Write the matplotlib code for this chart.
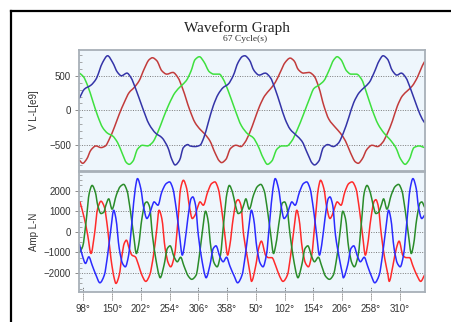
import numpy as np
import matplotlib
matplotlib.use("Agg")
import matplotlib.pyplot as plt
from matplotlib.path import Path
from matplotlib.patches import PathPatch
from matplotlib.lines import Line2D
from matplotlib.ticker import MultipleLocator, FixedLocator

# ---------------- data (angle in degrees, continuous) ----------------
title = "Waveform Graph"
subtitle = "67 Cycle(s)"
v_label = "V L-L[e9]"
i_label = "Amp L-N"

tick_deg = [98, 150, 202, 254, 306, 358, 410, 462, 514, 566, 618, 670]
tick_labels = ["98°", "150°", "202°", "254°", "306°", "358°",
               "50°", "102°", "154°", "206°", "258°", "310°"]

# Voltage L-L
v_blue_x = [91, 100, 112, 121, 133, 142, 151, 160, 167, 177, 184, 193, 205, 217, 229, 240, 251, 258, 264, 272,
            279, 287, 291, 300, 309, 316, 324, 333, 342, 351, 360, 369, 378, 386, 390, 398, 407, 416, 427, 436,
            445, 454, 463, 472, 483, 493, 504, 512, 516, 524, 532, 540, 550, 559, 568, 578, 587, 597, 606, 615,
            624, 633, 640, 648, 657, 665, 673, 681, 690, 702, 711, 715]
v_blue_y = [178, 309, 368, 455, 699, 796, 699, 553, 504, 543, 480, 309, 41, -202, -334, -397, -543, -713, -796, -728,
            -543, -499, -519, -528, -509, -397, -178, 66, 236, 333, 382, 504, 699, 787, 796, 738, 577, 514, 543, 480,
            309, 90, -129, -275, -363, -446, -640, -772, -796, -738, -543, -499, -528, -480, -334, -105, 114, 260, 333, 406,
            553, 723, 796, 747, 577, 514, 543, 480, 309, 41, -129, -178]

v_red_x = [91, 97, 104, 112, 121, 130, 138, 145, 154, 163, 172, 181, 190, 199, 208, 217, 223, 231, 240, 249,
           260, 269, 278, 290, 300, 309, 318, 327, 336, 344, 348, 356, 364, 374, 383, 390, 399, 408, 417, 426,
           436, 445, 454, 463, 472, 479, 487, 496, 506, 515, 524, 533, 542, 554, 563, 572, 581, 590, 595, 602,
           611, 620, 630, 639, 648, 657, 666, 675, 684, 693, 702, 711, 715]
v_red_y = [-728, -772, -713, -577, -519, -543, -519, -421, -251, -56, 114, 260, 333, 431, 601, 738, 767, 723, 577, 528,
           553, 480, 309, 17, -178, -275, -348, -446, -616, -738, -762, -713, -558, -509, -528, -470, -324, -129, 66, 212,
           309, 406, 553, 699, 762, 723, 592, 543, 553, 504, 333, 66, -129, -251, -334, -446, -616, -752, -772, -713,
           -567, -509, -528, -470, -334, -153, 66, 212, 285, 358, 480, 650, 709]

v_green_x = [91, 98, 106, 115, 124, 133, 142, 151, 160, 169, 176, 181, 188, 196, 205, 214, 223, 233, 243, 253,
             264, 275, 284, 293, 300, 308, 316, 326, 334, 344, 351, 360, 372, 384, 396, 405, 414, 423, 431, 439,
             448, 457, 466, 475, 484, 497, 507, 515, 524, 533, 542, 551, 557, 564, 574, 582, 592, 601, 610, 620,
             631, 642, 652, 663, 672, 680, 687, 696, 705, 715]
v_green_y = [543, 494, 358, 139, -80, -251, -334, -373, -470, -640, -762, -787, -738, -567, -509, -519, -470, -314, -105, 90,
             260, 358, 431, 577, 738, 782, 709, 562, 528, 528, 455, 285, 17, -226, -348, -397, -519, -689, -787, -738,
             -567, -519, -519, -446, -300, -40, 170, 319, 368, 431, 577, 738, 782, 738, 577, 528, 528, 455, 260, 17,
             -202, -334, -421, -543, -713, -787, -723, -543, -519, -543]

# Current L-N
i_blue_x = [91, 97, 102, 108, 114, 121, 128,
            136, 142, 148, 153, 157, 163, 169, 174, 180, 186, 192, 196, 202, 207, 213, 217, 222, 226, 233, 240,
            248, 254, 260, 266, 272, 277, 281, 287, 293, 296, 301, 306, 312, 318, 320, 327, 333, 338, 345, 351,
            357, 363, 371,
            377, 385, 391, 397, 402, 406, 412, 418, 423, 429, 435, 441, 445, 451, 456, 461, 466, 471, 475, 481,
            489, 496, 502, 508, 514, 520, 525, 529, 535, 541, 544, 549, 554, 561, 567, 568, 576, 582, 587, 594,
            599, 606, 612, 619,
            625, 633, 639, 645, 650, 654, 660, 666, 671, 677, 683, 689, 694, 700, 704, 710, 715]
i_blue_y = [-600, -1210, -1532, -1210, -1613, -2097, -2468,
            -2097, -1129, 161, 1048, 645, -806, -1532, -1694, -1129, 484, 2097, 2581, 2097, 1210, 645, 806, 1210, 1452, 1290, 1936,
            2339, 2420, 2097, 1129, -161, -1129, -645, 645, 1613, 1694, 1290, -161, -1290, -2097, -2226, -1613, -806, -677, -1200, -1450,
            -1230, -1650, -2150,
            -2468, -2097, -1129, 161, 1048, 645, -806, -1532, -1694, -1129, 484, 2097, 2581, 2097, 1210, 645, 806, 1210, 1452, 1290,
            1936, 2339, 2420, 2097, 1129, -161, -1129, -645, 645, 1613, 1694, 1290, -161, -1290, -2097, -2226, -1613, -806, -677, -1200,
            -1450, -1230, -1650, -2150,
            -2468, -2097, -1129, 161, 1048, 645, -806, -1532, -1694, -1129, 484, 2097, 2581, 2097, 1210, 645, 806]

i_red_x = [92, 100, 106, 112, 118, 124, 130, 136, 142, 148, 154, 157, 163, 168, 172, 176, 181, 186, 192, 198, 204, 211,
           218, 225, 231, 235, 240, 246, 252, 256, 263, 269, 274, 279, 285, 290, 295, 300, 305, 309, 315, 323,
           330, 336, 342, 348, 354, 359, 363, 369, 375, 378, 383, 388, 395, 400, 402, 410, 415, 420, 428, 433,
           439, 446, 453,
           459, 467, 473, 479, 484, 488, 494, 500, 505, 511, 517, 523, 527, 533, 538, 544, 548, 553, 557, 564,
           571, 578, 584, 591, 597, 603, 608, 612, 618, 624, 627, 631, 637, 643, 649, 651, 658, 664, 669, 676,
           682, 688, 694, 702, 708, 715]
i_red_y = [1452, 645, -161, -1048, -161, 1129, 1484, 1210, 161, -1290, -2258, -2500, -2097, -1129, -565, -403, -806, -1129, -1210, -1613, -2097, -2400,
           -2097, -1129, 161, 1048, 645, -806, -1532, -1694, -1129, 484, 2097, 2500, 2097, 1210, 645, 806, 1210, 1452, 1290, 1936,
           2339, 2420, 2097, 1129, -161, -1129, -645, 645, 1484, 1560, 1290, -161, -1290, -2097, -2400, -1613, -806, -450, -1150, -1250,
           -1250, -1650, -2150,
           -2400, -2097, -1129, 161, 1048, 645, -806, -1532, -1694, -1129, 484, 2097, 2500, 2097, 1210, 645, 806, 1210, 1452, 1290,
           1936, 2339, 2420, 2097, 1129, -161, -1129, -645, 645, 1484, 1560, 1290, -161, -1290, -2097, -2400, -1613, -806, -450, -1150,
           -1250, -1250, -1650, -2150, -2400, -2097]

i_green_x = [91, 97, 103, 109, 114, 120, 124, 130, 135, 139, 144, 150, 158, 165, 171, 177, 183, 189, 194, 198, 204, 210,
             213, 218, 223, 229, 235, 237, 244, 250, 255, 262, 268, 274, 280, 288,
             294, 302, 308, 314, 319, 323, 329, 335, 340, 346, 352, 358, 362, 368, 373, 378, 383, 388, 392, 398,
             406, 413, 419, 425, 431, 437, 442, 446, 453, 458, 462, 466, 472, 478, 484, 486, 493, 499, 504, 511,
             516, 523, 529, 536,
             543, 550, 557, 563, 567, 572, 578, 584, 588, 595, 601, 606, 611, 617, 622, 627, 632, 637, 641, 647,
             655, 662, 668, 674, 680, 686, 691, 695, 701, 707, 710, 715]
i_green_y = [-1000, -700, 484, 1900, 2250, 1900, 1300, 887, 950, 1300, 1600, 1100, 1800, 2200, 2300, 2000, 1050, -161, -1050, -645, 645, 1400,
             1450, 1200, -161, -1290, -2097, -2226, -1613, -806, -677, -1200, -1450, -1230, -1650, -2150,
             -2300, -2097, -1129, 161, 1000, 645, -806, -1532, -1694, -1129, 484, 1900, 2250, 1900, 1300, 887, 950, 1300, 1600, 1100,
             1800, 2200, 2300, 2000, 1050, -161, -1050, -645, 645, 1400, 1450, 1200, -161, -1290, -2097, -2226, -1613, -806, -677, -1200,
             -1450, -1230, -1650, -2150,
             -2300, -2097, -1129, 161, 1000, 645, -806, -1532, -1694, -1129, 484, 1900, 2250, 1900, 1300, 887, 950, 1300, 1600, 1100,
             1800, 2200, 2300, 2000, 1050, -161, -1050, -645, 645, 1400, 1450, 1200]

# ---------------- styling ----------------
SANS = ["Liberation Sans", "DejaVu Sans"]
SERIF = ["Liberation Serif", "DejaVu Serif"]
AX_BG = "#eef6fc"
SPINE = "#a8b0b8"
GRID = "#7a7a7a"

V_COLORS = {"red": "#c23b3b", "green": "#3ee03e", "blue": "#3434a8"}
I_COLORS = {"red": "#ff2b2b", "green": "#2a8c2a", "blue": "#2b2bff"}


def smooth_patch(x, y, color, lw=1.1):
    """Cubic (monotone Hermite) path through the read points, drawn by matplotlib's Bezier renderer."""
    x = np.asarray(x, float)
    y = np.asarray(y, float)
    h = np.diff(x)
    d = np.diff(y) / h
    m = np.zeros_like(y)
    m[0], m[-1] = d[0], d[-1]
    for i in range(1, len(y) - 1):
        if d[i - 1] * d[i] <= 0:
            m[i] = 0.0
        else:
            w1 = 2 * h[i] + h[i - 1]
            w2 = h[i] + 2 * h[i - 1]
            m[i] = (w1 + w2) / (w1 / d[i - 1] + w2 / d[i])
    verts = [(x[0], y[0])]
    codes = [Path.MOVETO]
    for i in range(len(x) - 1):
        verts += [(x[i] + h[i] / 3, y[i] + m[i] * h[i] / 3),
                  (x[i + 1] - h[i] / 3, y[i + 1] - m[i + 1] * h[i] / 3),
                  (x[i + 1], y[i + 1])]
        codes += [Path.CURVE4] * 3
    return PathPatch(Path(verts, codes), fill=False, edgecolor=color, lw=lw,
                     capstyle="round", joinstyle="round")


W, H = 452, 322
fig = plt.figure(figsize=(W / 100, H / 100), dpi=100)
fig.patch.set_facecolor("white")

def fx(px):
    return px / W

def fy(py):
    return 1 - py / H

ax1 = fig.add_axes([fx(79.3), fy(170.7), fx(424.7) - fx(79.3), fy(50) - fy(170.7)])
ax2 = fig.add_axes([fx(79.3), fy(291.7), fx(424.7) - fx(79.3), fy(172) - fy(291.7)])

for ax in (ax1, ax2):
    ax.set_facecolor(AX_BG)
    for s in ax.spines.values():
        s.set_color(SPINE)
        s.set_linewidth(1.3)
    ax.set_xlim(90.8, 715.3)
    ax.tick_params(axis="y", which="major", length=3, width=0.6, color=GRID, pad=3,
                   labelsize=7, labelcolor="#333333", direction="out")
    ax.tick_params(axis="y", which="minor", length=2.5, width=0.5, color="#888888", direction="in")
    ax.yaxis.grid(True, which="major", linestyle=(0, (1, 1.5)), color=GRID, linewidth=0.7)
    ax.set_axisbelow(True)
    for lab in ax.get_yticklabels():
        lab.set_fontfamily(SANS)

# top: voltage
ax1.set_ylim(-880, 880)
ax1.yaxis.set_major_locator(FixedLocator([-500, 0, 500]))
ax1.yaxis.set_minor_locator(MultipleLocator(100))
ax1.set_xticks([])
ax1.add_patch(smooth_patch(v_red_x, v_red_y, V_COLORS["red"]))
ax1.add_patch(smooth_patch(v_green_x, v_green_y, V_COLORS["green"]))
ax1.add_patch(smooth_patch(v_blue_x, v_blue_y, V_COLORS["blue"]))
ax1.set_ylabel(v_label, fontsize=7, family=SANS, color="#333333")

# bottom: current
ax2.set_ylim(-2900, 2900)
ax2.yaxis.set_major_locator(FixedLocator([-2000, -1000, 0, 1000, 2000]))
ax2.yaxis.set_minor_locator(MultipleLocator(250))
ax2.add_patch(smooth_patch(i_red_x, i_red_y, I_COLORS["red"]))
ax2.add_patch(smooth_patch(i_green_x, i_green_y, I_COLORS["green"]))
ax2.add_patch(smooth_patch(i_blue_x, i_blue_y, I_COLORS["blue"]))
ax2.set_ylabel(i_label, fontsize=7, family=SANS, color="#333333")
ax2.set_xticks(tick_deg)
ax2.set_xticklabels(tick_labels, fontsize=7, color="#333333", family=SANS)
ax2.tick_params(axis="x", length=0, pad=9)
for t in tick_deg:
    ax2.plot([t, t], [-0.07, 0.04], transform=ax2.get_xaxis_transform(), clip_on=False,
             color="#666666", lw=0.7, linestyle=(0, (1, 1)))

for ax in (ax1, ax2):
    ax.yaxis.set_label_coords(-(79.3 - 39.3) / (424.7 - 79.3), 0.5)

# titles
fig.text(fx(236.5), fy(28), title, ha="center", va="center", fontsize=11, family=SERIF, color="#222222")
fig.text(fx(244.7), fy(39.3), subtitle, ha="center", va="center", fontsize=6.8, family=SERIF, color="#333333")

# page frame (black border lines top and left)
fig.add_artist(Line2D([fx(11), 1], [fy(10.5), fy(10.5)], color="black", lw=1.6, transform=fig.transFigure))
fig.add_artist(Line2D([fx(11), fx(11)], [0, fy(10.5)], color="black", lw=1.6, transform=fig.transFigure))

fig.savefig("out.png", dpi=100, facecolor="white")
